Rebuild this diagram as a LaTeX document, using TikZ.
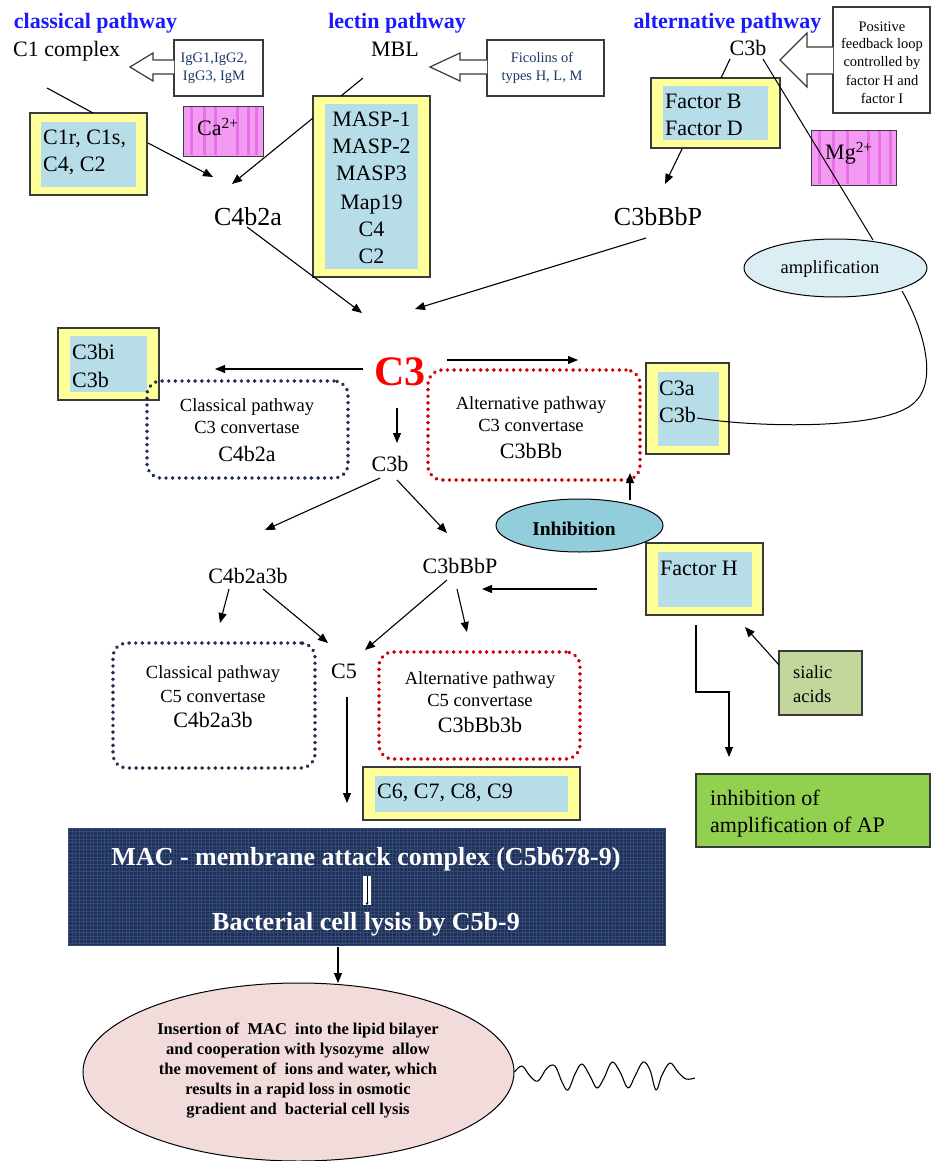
\documentclass[tikz,border=0pt]{standalone}
\usepackage{fontspec}
\setmainfont{Liberation Serif}
\usetikzlibrary{arrows.meta,shapes.geometric}
\definecolor{yel}{HTML}{FFFF99}
\definecolor{lblue}{HTML}{B7DDE8}
\definecolor{bord}{HTML}{3A3A3A}
\definecolor{navy}{HTML}{1F2F4F}
\definecolor{dred}{HTML}{D00000}
\definecolor{hblue}{HTML}{1A1AFF}
\definecolor{cdark}{HTML}{1F3864}
\definecolor{magfill}{HTML}{F39AF3}
\definecolor{magdark}{HTML}{E35EE3}
\definecolor{ampfill}{HTML}{DBEEF3}
\definecolor{inhfill}{HTML}{92CDDC}
\definecolor{sialfill}{HTML}{C3D69B}
\definecolor{grn}{HTML}{92D050}
\definecolor{macfill}{HTML}{1F3153}
\definecolor{macgrid}{HTML}{34497A}
\definecolor{pinkfill}{HTML}{F2DCDB}
\begin{document}
\begin{tikzpicture}[x=1pt,y=-1pt,
  t22/.style={font=\fontsize{22}{26}\selectfont, inner sep=0, anchor=base},
  t26/.style={font=\fontsize{26}{30}\selectfont, inner sep=0, anchor=base},
  t18/.style={font=\fontsize{18.5}{22}\selectfont, inner sep=0, anchor=base},
  t14/.style={font=\fontsize{14.5}{18}\selectfont, inner sep=0, anchor=base, text=cdark},
  hd/.style={font=\bfseries\fontsize{22}{26}\selectfont, text=hblue, inner sep=0, anchor=base},
  ybox/.style={rectangle, draw=bord, fill=yel, line width=1.2pt, inner sep=0},
  bin/.style={rectangle, fill=lblue, inner sep=0},
  mbox/.style={rectangle, draw=bord, fill=magfill, line width=0.8pt, inner sep=0},
  callout/.style={rectangle, draw=bord, fill=white, line width=1.2pt, inner sep=0},
  cshape/.style={draw=bord, fill=white, line width=1.2pt, line join=miter},
  navydot/.style={rectangle, draw=navy, line width=3.9pt, line cap=round, dash pattern=on 0.01pt off 6.6pt, rounded corners=14pt, inner sep=0},
  reddot/.style={rectangle, draw=dred, line width=3.9pt, line cap=round, dash pattern=on 0.01pt off 6.6pt, rounded corners=14pt, inner sep=0},
  ln/.style={line width=1.1pt, draw=black},
  arr/.style={line width=1.1pt, draw=black, -{Triangle[length=10pt,width=8pt]}}
]
\useasboundingbox (0,0) rectangle (931,1161);
\fill[white] (0,0) rectangle (931,1161);

% ---------- headings ----------
\node[hd] (hcl) at (95.5,29) {classical pathway};
\node[hd] (hle) at (397,29) {lectin pathway};
\node[hd] (hal) at (727.5,29) {alternative pathway};

\node[t22, anchor=base west] (c1c) at (13,57) {C1 complex};
\node[t22] (mbl) at (395,57) {MBL};
\node[t22] (c3btop) at (748,56) {C3b};

% ---------- callouts ----------
\node[callout, minimum width=89pt, minimum height=56pt] (igg) at (218.5,68) {};
\draw[cshape] (174,60) -- (153,60) -- (153,53) -- (130,67) -- (153,81) -- (153,74) -- (174,74);
\node[t14] (igg1) at (214,63) {IgG1,IgG2,};
\node[t14] (igg2) at (214,81) {IgG3, IgM};

\node[callout, minimum width=117pt, minimum height=56pt] (fic) at (545.5,68) {};
\draw[cshape] (487,60) -- (460,60) -- (460,53) -- (430,67) -- (460,81) -- (460,74) -- (487,74);
\node[t14] (fic1) at (542,63) {Ficolins of};
\node[t14] (fic2) at (542,81) {types H, L, M};

\node[callout, minimum width=97pt, minimum height=106pt] (pfb) at (881.5,60) {};
\draw[cshape] (833,47) -- (807,47) -- (807,33) -- (780,60) -- (807,87) -- (807,74) -- (833,74);
\node[t14, text=black] (pf1) at (882,32) {Positive};
\node[t14, text=black] (pf2) at (882,49) {feedback loop};
\node[t14, text=black] (pf3) at (882,67) {controlled by};
\node[t14, text=black] (pf4) at (882,86) {factor H and};
\node[t14, text=black] (pf5) at (882,104) {factor I};

% ---------- yellow/blue boxes ----------
\node[ybox, minimum width=117pt, minimum height=82pt] (c1rbox) at (88.5,154) {};
\node[bin, minimum width=95pt, minimum height=65pt] (c1rin) at (88.5,154.5) {};
\node[t22, anchor=base west] (c1r1) at (43,145) {C1r, C1s,};
\node[t22, anchor=base west] (c1r2) at (43,172) {C4, C2};

\node[ybox, minimum width=117pt, minimum height=181pt] (maspbox) at (371.5,186.5) {};
\node[bin, minimum width=93pt, minimum height=165pt] (maspin) at (371.5,186.5) {};
\node[t22] (m1) at (371.5,127) {MASP-1};
\node[t22] (m2) at (371.5,154) {MASP-2};
\node[t22] (m3) at (371.5,181) {MASP3};
\node[t22] (m4) at (371.5,209) {Map19};
\node[t22] (m5) at (371.5,236) {C4};
\node[t22] (m6) at (371.5,263) {C2};

\node[ybox, minimum width=129pt, minimum height=70pt] (fbdbox) at (715.5,113) {};
\node[bin, minimum width=105pt, minimum height=54pt] (fbdin) at (715.5,113) {};
\node[t22, anchor=base west] (fb) at (665,109) {Factor B};
\node[t22, anchor=base west] (fd) at (665,136) {Factor D};

\node[ybox, minimum width=101pt, minimum height=72pt] (c3ibox) at (108.5,364) {};
\node[bin, minimum width=77pt, minimum height=56pt] (c3iin) at (108.5,364) {};
\node[t22, anchor=base west] (c3bi) at (72,359) {C3bi};
\node[t22, anchor=base west] (c3bl) at (72,387) {C3b};

\node[ybox, minimum width=83pt, minimum height=91pt] (c3abox) at (687.5,408.5) {};
\node[bin, minimum width=61pt, minimum height=74pt] (c3ain) at (688.5,409) {};
\node[t22, anchor=base west] (c3a) at (659,395) {C3a};
\node[t22, anchor=base west] (c3br) at (659,422) {C3b};

\node[ybox, minimum width=117pt, minimum height=72pt] (fhbox) at (704.5,579) {};
\node[bin, minimum width=94pt, minimum height=55pt] (fhin) at (705,579.5) {};
\node[t22, anchor=base west] (fh) at (660,575) {Factor H};

\node[ybox, minimum width=217pt, minimum height=53pt] (c6box) at (471.5,793.5) {};
\node[bin, minimum width=193pt, minimum height=36pt] (c6in) at (471.5,794) {};
\node[t22, anchor=base west] (c6) at (377,798) {C6, C7, C8, C9};

% ---------- magenta ion boxes ----------
\node[mbox, minimum width=80pt, minimum height=50pt] (cabox) at (223,131) {};
\foreach \sx in {190,203,214,236,247,255} \fill[magdark, opacity=0.7] (\sx,107) rectangle ++(2.5,48);
\node[t22, anchor=base west] (ca) at (197,136) {Ca\textsuperscript{2+}};
\node[mbox, minimum width=85pt, minimum height=55pt] (mgbox) at (853.5,157.5) {};
\foreach \sx in {818,832,846,867,878,889} \fill[magdark, opacity=0.7] (\sx,131) rectangle ++(2.5,53);
\node[t22, anchor=base west] (mg) at (825,160) {Mg\textsuperscript{2+}};

% ---------- upper products ----------
\node[t26] (c4b2a) at (248,225) {C4b2a};
\node[t26] (c3bbbpu) at (658,225) {C3bBbP};

% amplification ellipse
\node[ellipse, draw=black, line width=1pt, fill=ampfill, minimum width=183pt, minimum height=58pt, inner sep=0] (amp) at (835.5,268) {};
\node[t18] (ampt) at (830,273) {amplification};

% ---------- C3 ----------
\node[font=\bfseries\fontsize{42}{46}\selectfont, text=red, inner sep=0, anchor=base] (c3) at (400,385) {C3};

\node[navydot, minimum width=201pt, minimum height=97pt] (cc3) at (247.5,429.5) {};
\node[t18] (cc3a) at (247,411) {Classical pathway};
\node[t18] (cc3b) at (247,433) {C3 convertase};
\node[t22] (cc3c) at (247,461) {C4b2a};

\node[reddot, minimum width=212pt, minimum height=110pt] (ac3) at (534,425) {};
\node[t18] (ac3a) at (531,409) {Alternative pathway};
\node[t18] (ac3b) at (531,431) {C3 convertase};
\node[t22] (ac3c) at (531,458) {C3bBb};

\node[t22] (c3bm) at (390,471) {C3b};

% inhibition
\node[ellipse, draw=black, line width=1pt, fill=inhfill, minimum width=167pt, minimum height=53pt, inner sep=0] (inh) at (579.5,525.5) {};
\node[font=\bfseries\fontsize{19.5}{23}\selectfont, inner sep=0, anchor=base] (inht) at (574,535) {Inhibition};

% ---------- lower ----------
\node[t22] (c4b2a3b) at (248,583) {C4b2a3b};
\node[t22] (c3bbbpl) at (460,573) {C3bBbP};
\node[t22] (c5) at (344,678) {C5};

\node[navydot, minimum width=202pt, minimum height=125pt] (cc5) at (214,705.5) {};
\node[t18] (cc5a) at (213,678) {Classical pathway};
\node[t18] (cc5b) at (213,702) {C5 convertase};
\node[t22] (cc5c) at (213,727) {C4b2a3b};

\node[reddot, minimum width=201pt, minimum height=107pt] (ac5) at (479.5,705.5) {};
\node[t18] (ac5a) at (480,684) {Alternative pathway};
\node[t18] (ac5b) at (480,706) {C5 convertase};
\node[t22] (ac5c) at (480,732) {C3bBb3b};

\node[rectangle, draw=bord, fill=sialfill, line width=1.2pt, minimum width=83pt, minimum height=64pt, inner sep=0] (sial) at (820.5,683) {};
\node[t18, anchor=base west] (sial1) at (793,678) {sialic};
\node[t18, anchor=base west] (sial2) at (793,702) {acids};

\node[rectangle, draw=bord, fill=grn, line width=1.2pt, minimum width=234pt, minimum height=73pt, inner sep=0] (inhap) at (813,810.5) {};
\node[t22, anchor=base west] (inhap1) at (710,805) {inhibition of};
\node[t22, anchor=base west] (inhap2) at (710,832) {amplification of AP};

% ---------- MAC ----------
\node[rectangle, fill=macfill, draw=macgrid, line width=0.8pt, minimum width=597pt, minimum height=117pt, inner sep=0] (mac) at (366.5,886.5) {};
\draw[macgrid, line width=0.45pt, step=3.6pt] (69,829) grid (664,944);
\node[font=\bfseries\fontsize{26}{30}\selectfont, text=white, inner sep=0, anchor=base] (mac1) at (366,865) {MAC - membrane attack complex (C5b678-9)};
\node[font=\bfseries\fontsize{26}{30}\selectfont, text=white, inner sep=0, anchor=base] (mac2) at (366,930) {Bacterial cell lysis by C5b-9};
\node[rectangle, fill=white, minimum width=8pt, minimum height=29pt, inner sep=0] (macbar) at (367,890.5) {};
\draw[black, line width=0.6pt, -{Stealth[length=3pt,width=3pt]}] (macbar.north) -- (macbar.south);

\node[ellipse, draw=black, line width=1pt, fill=pinkfill, minimum width=431pt, minimum height=178pt, inner sep=0] (lys) at (298.5,1072) {};
\node[font=\bfseries\fontsize{16.5}{20}\selectfont, align=center, inner sep=0] (lyst) at (298,1070) {Insertion of\ \ MAC\ \ into the lipid bilayer\\and cooperation with lysozyme\ \ allow\\the movement of\ \ ions and water, which\\results in a rapid loss in osmotic\\gradient and\ \ bacterial cell lysis};

% ---------- connectors ----------
\coordinate (p1) at (47,88);   \coordinate (p2) at (93,113);
\draw[ln] (p1) -- (p2);
\coordinate (p3) at (148,143); \coordinate (p4) at (213,177);
\draw[arr] (p3) -- (p4);
\coordinate (p5) at (363,78);  \coordinate (p6) at (341,96);
\draw[ln] (p5) -- (p6);
\coordinate (p7) at (313,118); \coordinate (p8) at (232,184);
\draw[arr] (p7) -- (p8);
\coordinate (p9) at (730,59);  \coordinate (p10) at (721,78);
\draw[ln] (p9) -- (p10);
\coordinate (p11) at (682,149); \coordinate (p12) at (665,184);
\draw[arr] (p11) -- (p12);
\coordinate (p13) at (763,59); \coordinate (p14) at (873,240);
\draw[line width=1pt] (p13) -- (p14);
\coordinate (p15) at (902,291); \coordinate (p16) at (697,418);
\draw[line width=1pt] (p15) .. controls (920,322) and (940,378) .. (915,402) .. controls (888,430) and (760,428) .. (p16);

\coordinate (q1) at (247,227); \coordinate (q2) at (362,313);
\draw[arr] (q1) -- (q2);
\coordinate (q3) at (646,238); \coordinate (q4) at (415,309);
\draw[arr] (q3) -- (q4);
\coordinate (q5) at (363,369); \coordinate (q6) at (215,369);
\draw[arr] (q5) -- (q6);
\coordinate (q7) at (447,360); \coordinate (q8) at (578,360);
\draw[arr] (q7) -- (q8);
\coordinate (q9) at (397,408); \coordinate (q10) at (397,443);
\draw[arr] (q9) -- (q10);
\coordinate (q11) at (380,478); \coordinate (q12) at (265,530);
\draw[arr] (q11) -- (q12);
\coordinate (q13) at (397,480); \coordinate (q14) at (447,533);
\draw[arr] (q13) -- (q14);
\coordinate (q15) at (630,500); \coordinate (q16) at (630,473);
\draw[arr] (q15) -- (q16);
\coordinate (q17) at (597,589); \coordinate (q18) at (482,589);
\draw[arr] (q17) -- (q18);
\coordinate (r1) at (229,589); \coordinate (r2) at (220,623);
\draw[arr] (r1) -- (r2);
\coordinate (r3) at (263,589); \coordinate (r4) at (328,643);
\draw[arr] (r3) -- (r4);
\coordinate (r5) at (447,580); \coordinate (r6) at (365,650);
\draw[arr] (r5) -- (r6);
\coordinate (r7) at (457,589); \coordinate (r8) at (467,632);
\draw[arr] (r7) -- (r8);
\coordinate (r9) at (347,697); \coordinate (r10) at (347,803);
\draw[arr] (r9) -- (r10);
\coordinate (r11) at (696,625); \coordinate (r12) at (729,757);
\draw[arr] (r11) -- (696,692) -- (729,692) -- (r12);
\coordinate (r13) at (779,665); \coordinate (r14) at (745,627);
\draw[arr] (r13) -- (r14);
\coordinate (r15) at (338,947); \coordinate (r16) at (338,983);
\draw[arr] (r15) -- (r16);

% wave
\draw[line width=1.1pt, line join=round] plot[smooth, tension=0.6] coordinates {(lys.east) (522,1066) (530,1076) (538,1081) (547,1068) (555,1066) (562,1082) (568,1090) (575,1074) (582,1064) (590,1076) (597,1088) (604,1078) (612,1062) (620,1072) (628,1088) (635,1076) (643,1062) (650,1070) (656,1090) (662,1075) (670,1063) (678,1072) (686,1079) (695,1078)};
\end{tikzpicture}
\end{document}
